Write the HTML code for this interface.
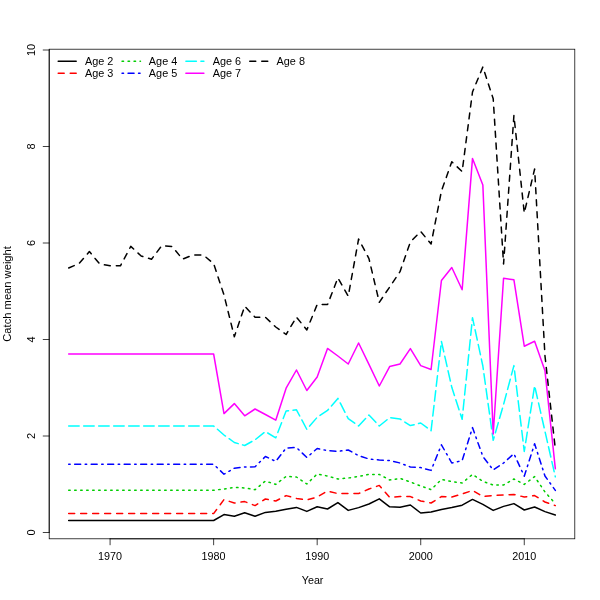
<!DOCTYPE html>
<html><head><meta charset="utf-8"><title>Catch mean weight</title>
<style>
html,body{margin:0;padding:0;background:#fff;}
svg{display:block;will-change:transform;}
text{font-family:"Liberation Sans",sans-serif;font-size:10.2px;fill:#000;}
</style></head><body>
<svg width="600" height="600" viewBox="0 0 600 600">
<rect x="0" y="0" width="600" height="600" fill="#fff"/>
<g fill="none" stroke-width="1.5" stroke-linecap="round" stroke-linejoin="round">
<polyline stroke="#000000" points="68.67,520.50 79.02,520.50 89.38,520.50 99.73,520.50 110.09,520.50 120.44,520.50 130.79,520.50 141.15,520.50 151.50,520.50 161.86,520.50 172.21,520.50 182.57,520.50 192.92,520.50 203.28,520.50 213.63,520.50 223.99,514.60 234.34,516.20 244.70,512.80 255.05,516.20 265.40,512.40 275.76,511.20 286.11,509.20 296.47,507.40 306.82,511.40 317.18,506.80 327.53,509.00 337.89,502.60 348.24,510.40 358.60,507.60 368.95,504.00 379.30,498.80 389.66,506.80 400.01,507.20 410.37,505.00 420.72,513.00 431.08,512.00 441.43,509.40 451.79,507.60 462.14,505.20 472.50,499.40 482.85,504.40 493.21,510.40 503.56,506.40 513.91,503.60 524.27,510.00 534.62,507.00 544.98,511.60 555.33,515.00"/>
<polyline stroke="#FF0000" stroke-dasharray="6 6" points="68.67,513.60 79.02,513.60 89.38,513.60 99.73,513.60 110.09,513.60 120.44,513.60 130.79,513.60 141.15,513.60 151.50,513.60 161.86,513.60 172.21,513.60 182.57,513.60 192.92,513.60 203.28,513.60 213.63,513.60 223.99,499.60 234.34,503.00 244.70,501.60 255.05,505.60 265.40,499.00 275.76,501.00 286.11,495.60 296.47,498.40 306.82,500.00 317.18,497.00 327.53,491.00 337.89,493.60 348.24,493.60 358.60,493.60 368.95,489.00 379.30,485.40 389.66,497.40 400.01,496.60 410.37,496.60 420.72,501.00 431.08,503.00 441.43,496.60 451.79,497.00 462.14,494.00 472.50,490.40 482.85,496.60 493.21,495.40 503.56,495.00 513.91,494.40 524.27,497.00 534.62,495.60 544.98,502.00 555.33,505.60"/>
<polyline stroke="#00CD00" stroke-dasharray="1.5 4.5" points="68.67,490.20 79.02,490.20 89.38,490.20 99.73,490.20 110.09,490.20 120.44,490.20 130.79,490.20 141.15,490.20 151.50,490.20 161.86,490.20 172.21,490.20 182.57,490.20 192.92,490.20 203.28,490.20 213.63,490.20 223.99,489.00 234.34,487.40 244.70,488.00 255.05,489.70 265.40,481.00 275.76,484.40 286.11,476.40 296.47,477.00 306.82,484.00 317.18,474.00 327.53,476.00 337.89,479.00 348.24,478.00 358.60,476.40 368.95,474.40 379.30,474.40 389.66,480.00 400.01,478.40 410.37,482.00 420.72,486.00 431.08,489.60 441.43,479.40 451.79,481.60 462.14,483.00 472.50,474.40 482.85,481.40 493.21,485.00 503.56,485.00 513.91,479.00 524.27,484.40 534.62,476.60 544.98,492.00 555.33,503.60"/>
<polyline stroke="#0000FF" stroke-dasharray="1.5 4.5 6 4.5" points="68.67,464.30 79.02,464.30 89.38,464.30 99.73,464.30 110.09,464.30 120.44,464.30 130.79,464.30 141.15,464.30 151.50,464.30 161.86,464.30 172.21,464.30 182.57,464.30 192.92,464.30 203.28,464.30 213.63,464.30 223.99,474.20 234.34,468.20 244.70,467.00 255.05,466.80 265.40,456.50 275.76,461.40 286.11,448.00 296.47,447.50 306.82,457.50 317.18,448.50 327.53,450.60 337.89,451.40 348.24,450.00 358.60,455.60 368.95,459.00 379.30,460.00 389.66,460.60 400.01,463.00 410.37,467.00 420.72,467.60 431.08,470.40 441.43,444.80 451.79,463.00 462.14,460.60 472.50,427.60 482.85,456.40 493.21,470.00 503.56,463.00 513.91,453.70 524.27,476.20 534.62,443.80 544.98,476.00 555.33,490.40"/>
<polyline stroke="#00FFFF" stroke-dasharray="10.5 4.5" points="68.67,426.00 79.02,426.00 89.38,426.00 99.73,426.00 110.09,426.00 120.44,426.00 130.79,426.00 141.15,426.00 151.50,426.00 161.86,426.00 172.21,426.00 182.57,426.00 192.92,426.00 203.28,426.00 213.63,426.00 223.99,435.00 234.34,442.50 244.70,445.50 255.05,439.80 265.40,431.60 275.76,437.80 286.11,411.00 296.47,409.80 306.82,429.40 317.18,417.30 327.53,410.40 337.89,398.40 348.24,418.60 358.60,426.00 368.95,415.00 379.30,426.00 389.66,417.60 400.01,419.00 410.37,425.60 420.72,423.00 431.08,430.70 441.43,341.50 451.79,387.30 462.14,419.30 472.50,317.70 482.85,366.00 493.21,440.30 503.56,404.50 513.91,365.60 524.27,451.40 534.62,385.80 544.98,431.40 555.33,476.80"/>
<polyline stroke="#FF00FF" points="68.67,354.00 79.02,354.00 89.38,354.00 99.73,354.00 110.09,354.00 120.44,354.00 130.79,354.00 141.15,354.00 151.50,354.00 161.86,354.00 172.21,354.00 182.57,354.00 192.92,354.00 203.28,354.00 213.63,354.00 223.99,413.60 234.34,403.60 244.70,415.80 255.05,409.00 265.40,414.50 275.76,420.20 286.11,388.20 296.47,370.00 306.82,390.50 317.18,377.00 327.53,348.40 337.89,356.00 348.24,364.00 358.60,343.00 368.95,364.40 379.30,386.00 389.66,366.60 400.01,364.00 410.37,348.60 420.72,365.60 431.08,369.50 441.43,280.50 451.79,267.50 462.14,289.70 472.50,158.40 482.85,185.00 493.21,434.00 503.56,278.20 513.91,279.80 524.27,346.20 534.62,341.30 544.98,370.80 555.33,468.70"/>
<polyline stroke="#000000" stroke-dasharray="6 6" points="68.67,268.00 79.02,263.60 89.38,251.60 99.73,264.00 110.09,265.80 120.44,265.80 130.79,246.40 141.15,256.00 151.50,259.20 161.86,245.60 172.21,246.50 182.57,259.20 192.92,255.00 203.28,255.00 213.63,263.60 223.99,295.00 234.34,336.70 244.70,306.20 255.05,317.20 265.40,317.20 275.76,327.00 286.11,334.50 296.47,317.10 306.82,330.00 317.18,304.50 327.53,304.60 337.89,277.90 348.24,296.20 358.60,239.00 368.95,258.60 379.30,302.30 389.66,287.00 400.01,271.70 410.37,242.00 420.72,231.50 431.08,244.00 441.43,191.00 451.79,161.80 462.14,171.60 472.50,92.00 482.85,67.00 493.21,98.80 503.56,264.00 513.91,115.50 524.27,213.00 534.62,169.00 544.98,356.00 555.33,449.00"/>
</g>
<g fill="none" stroke="#000" stroke-width="0.75" stroke-linecap="round">
<rect x="49.20" y="49.20" width="525.60" height="489.60"/>
<path d="M110.09 538.80H524.27M110.09 538.80v6M213.63 538.80v6M317.18 538.80v6M420.72 538.80v6M524.27 538.80v6"/>
<path d="M49.20 532.50V50.00M49.20 532.50h-6M49.20 436.00h-6M49.20 339.50h-6M49.20 243.00h-6M49.20 146.50h-6M49.20 50.00h-6"/>
</g>
<text x="110.09" y="559.8" text-anchor="middle" textLength="24" lengthAdjust="spacingAndGlyphs">1970</text>
<text x="213.63" y="559.8" text-anchor="middle" textLength="24" lengthAdjust="spacingAndGlyphs">1980</text>
<text x="317.18" y="559.8" text-anchor="middle" textLength="24" lengthAdjust="spacingAndGlyphs">1990</text>
<text x="420.72" y="559.8" text-anchor="middle" textLength="24" lengthAdjust="spacingAndGlyphs">2000</text>
<text x="524.27" y="559.8" text-anchor="middle" textLength="24" lengthAdjust="spacingAndGlyphs">2010</text>
<text transform="translate(34.9 532.50) rotate(-90)" text-anchor="middle" textLength="6.1" lengthAdjust="spacingAndGlyphs">0</text>
<text transform="translate(34.9 436.00) rotate(-90)" text-anchor="middle" textLength="6.1" lengthAdjust="spacingAndGlyphs">2</text>
<text transform="translate(34.9 339.50) rotate(-90)" text-anchor="middle" textLength="6.1" lengthAdjust="spacingAndGlyphs">4</text>
<text transform="translate(34.9 243.00) rotate(-90)" text-anchor="middle" textLength="6.1" lengthAdjust="spacingAndGlyphs">6</text>
<text transform="translate(34.9 146.50) rotate(-90)" text-anchor="middle" textLength="6.1" lengthAdjust="spacingAndGlyphs">8</text>
<text transform="translate(34.9 50.00) rotate(-90)" text-anchor="middle" textLength="12.2" lengthAdjust="spacingAndGlyphs">10</text>
<text x="312.6" y="583.7" text-anchor="middle" textLength="21.6" lengthAdjust="spacingAndGlyphs">Year</text>
<text transform="translate(10.6 293.9) rotate(-90)" text-anchor="middle" textLength="95.6" lengthAdjust="spacingAndGlyphs">Catch mean weight</text>
<g fill="none" stroke-width="1.5" stroke-linecap="round">
<path stroke="#000000" d="M58.20 61.20h18"/>
<path stroke="#FF0000" stroke-dasharray="6 6" d="M58.20 73.20h18"/>
<path stroke="#00CD00" stroke-dasharray="1.5 4.5" d="M122.05 61.20h18.4"/>
<path stroke="#0000FF" stroke-dasharray="1.5 4.5 6 4.5" d="M122.05 73.20h18"/>
<path stroke="#00FFFF" stroke-dasharray="10.5 4.5" d="M185.90 61.20h18"/>
<path stroke="#FF00FF" d="M185.90 73.20h18"/>
<path stroke="#000000" stroke-dasharray="6 6" d="M249.75 61.20h18"/>
</g>
<text x="85.00" y="64.50" textLength="28.4" lengthAdjust="spacingAndGlyphs">Age 2</text>
<text x="85.00" y="76.60" textLength="28.4" lengthAdjust="spacingAndGlyphs">Age 3</text>
<text x="148.85" y="64.50" textLength="28.4" lengthAdjust="spacingAndGlyphs">Age 4</text>
<text x="148.85" y="76.60" textLength="28.4" lengthAdjust="spacingAndGlyphs">Age 5</text>
<text x="212.70" y="64.50" textLength="28.4" lengthAdjust="spacingAndGlyphs">Age 6</text>
<text x="212.70" y="76.60" textLength="28.4" lengthAdjust="spacingAndGlyphs">Age 7</text>
<text x="276.55" y="64.50" textLength="28.4" lengthAdjust="spacingAndGlyphs">Age 8</text>
</svg>
</body></html>
